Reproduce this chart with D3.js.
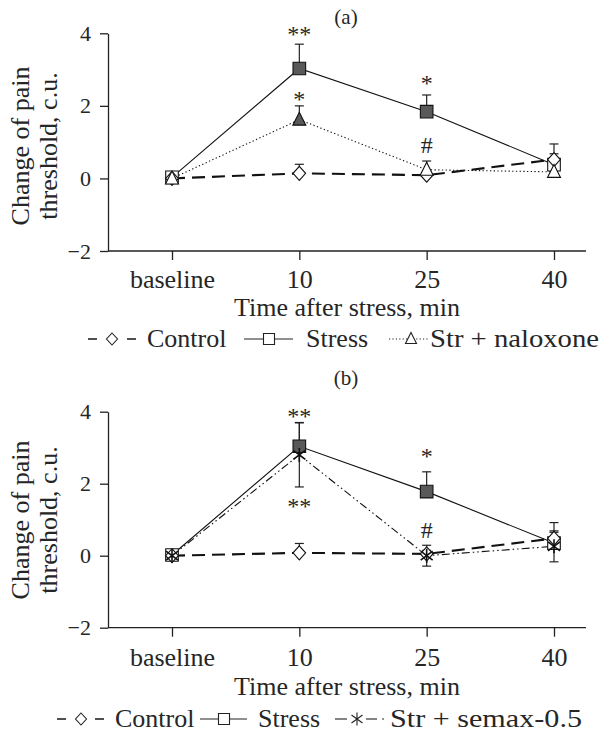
<!DOCTYPE html>
<html><head><meta charset="utf-8">
<script src="https://cdn.jsdelivr.net/npm/d3@7"></script>
<style>
body{margin:0;background:#fff}
text{font-family:"Liberation Serif","Times New Roman",serif;fill:#262626}
</style>
</head><body>
<svg id="chart" width="604" height="738"></svg>
<script>
// ---------- data ----------
const categories = ["baseline", "10", "25", "40"];
const yTicks = [-2, 0, 2, 4];
const xTitle = "Time after stress, min";
const yTitle = ["Change of pain", "threshold, c.u."];

// panel (a)
const controlA = [0, 0.14, 0.09, 0.52];
const controlAse = [0, 0.25, 0.10, 0.43];
const stressA = [0.03, 3.03, 1.84, 0.38];
const stressAse = [0, 0.67, 0.46, 0.30];
const stressAfilled = [false, true, true, false];
const naloxA = [0, 1.62, 0.24, 0.18];
const naloxAse = [0, 0.38, 0.24, 0.10];
const naloxAfilled = [false, true, false, false];
const annotAtext = ["**", "*", "*", "#"];
const annotAcat = ["10", "10", "25", "25"];
const annotAval = [4.12, 2.33, 2.77, 0.92];

// panel (b)
const controlB = [0, 0.08, 0.05, 0.48];
const controlBse = [0, 0.26, 0.10, 0.44];
const stressB = [0.02, 3.04, 1.78, 0.35];
const stressBse = [0, 0.66, 0.55, 0.30];
const stressBfilled = [false, true, true, false];
const semaxB = [0, 2.80, 0.0, 0.26];
const semaxBse = [0, 0.89, 0.29, 0.43];
const annotBtext = ["**", "**", "*", "#"];
const annotBcat = ["10", "10", "25", "25"];
const annotBval = [4.02, 1.52, 2.91, 0.71];

const legendA = ["Control", "Stress", "Str + naloxone"];
const legendB = ["Control", "Stress", "Str + semax-0.5"];

// ---------- symbols ----------
const symDiamond = {draw(c){c.moveTo(0,-7);c.lineTo(6.3,0);c.lineTo(0,7);c.lineTo(-6.3,0);c.closePath();}};
const symDiamondS = {draw(c){c.moveTo(0,-6);c.lineTo(5.5,0);c.lineTo(0,6);c.lineTo(-5.5,0);c.closePath();}};
const symSquare = {draw(c){c.rect(-6.3,-6.3,12.6,12.6);}};
const symSquareS = {draw(c){c.rect(-5.5,-5.5,11,11);}};
const symTriangle = {draw(c){c.moveTo(0,-7.5);c.lineTo(6.5,5.5);c.lineTo(-6.5,5.5);c.closePath();}};
const symTriangleS = {draw(c){c.moveTo(0,-6.5);c.lineTo(5.5,4.5);c.lineTo(-5.5,4.5);c.closePath();}};
const symAster = {draw(c){c.moveTo(0,-7);c.lineTo(0,7);c.moveTo(-6,-4.5);c.lineTo(6,4.5);c.moveTo(-6,4.5);c.lineTo(6,-4.5);}};
const symAsterS = {draw(c){c.moveTo(0,-6.5);c.lineTo(0,6.5);c.moveTo(-5.5,-4);c.lineTo(5.5,4);c.moveTo(-5.5,4);c.lineTo(5.5,-4);}};

const DARK = "#595959";
const svg = d3.select("#chart");
const x = d3.scalePoint().domain(categories).range([172, 554]);

const panels = [
  {title:"(a)", titleY:24, yRange:[251, 33.3], yTitleCy:146, tickBase:37, xTitleY:316,
   series:[
     {v:controlA, se:controlAse, sym:symDiamond, dash:"13,7", w:2.1, down:false},
     {v:stressA, se:stressAse, filled:stressAfilled, sym:symSquare, dash:null, w:1.1, down:false},
     {v:naloxA, se:naloxAse, filled:naloxAfilled, sym:symTriangle, dash:"1.3,2.4", w:1.1, down:false}
   ],
   annText:annotAtext, annCat:annotAcat, annVal:annotAval,
   legendY:347, legend:legendA},
  {title:"(b)", titleY:385, yRange:[627.7, 411.7], yTitleCy:520, tickBase:38, xTitleY:695,
   series:[
     {v:controlB, se:controlBse, sym:symDiamond, dash:"13,7", w:2.1, down:false},
     {v:stressB, se:stressBse, filled:stressBfilled, sym:symSquare, dash:null, w:1.1, down:false},
     {v:semaxB, se:semaxBse, sym:symAster, dash:"8,3,1.5,3,1.5,3", w:1.1, down:true, stroke:true}
   ],
   annText:annotBtext, annCat:annotBcat, annVal:annotBval,
   legendY:727, legend:legendB}
];

panels.forEach((p, pi) => {
  const y = d3.scaleLinear().domain([-2, 4]).range(p.yRange);
  const g = svg.append("g");

  // title
  g.append("text").attr("x", 346).attr("y", p.titleY).attr("text-anchor","middle")
    .style("font-size","21px").text(p.title);

  // y axis
  const ya = g.append("g").attr("transform","translate(108,0)")
    .call(d3.axisLeft(y).tickValues(yTicks).tickFormat(d3.format("d"))
      .tickSize(8).tickSizeOuter(0).tickPadding(9));
  ya.select(".domain").attr("stroke","#222").attr("stroke-width",1.3);
  ya.selectAll(".tick line").attr("stroke","#222").attr("stroke-width",1.3);
  ya.selectAll(".tick text").style("font-size","22px").style("font-family","'Liberation Serif',serif").attr("fill","#262626");

  // x axis
  const y0 = y(-2);
  g.append("line").attr("x1",108).attr("x2",586).attr("y1",y0).attr("y2",y0)
    .attr("stroke","#222").attr("stroke-width",1.3);
  const xa = g.append("g").attr("transform",`translate(0,${y0})`)
    .call(d3.axisBottom(x).tickSize(9).tickSizeOuter(0));
  xa.select(".domain").remove();
  xa.selectAll(".tick line").attr("stroke","#222").attr("stroke-width",1.3);
  xa.selectAll(".tick text").attr("y", p.tickBase).attr("dy", 0)
    .style("font-size","26px").style("font-family","'Liberation Serif',serif").attr("fill","#262626");

  // axis titles
  g.append("text").attr("x", 347).attr("y", p.xTitleY).attr("text-anchor","middle")
    .style("font-size","26px").text(xTitle);
  yTitle.forEach((t, i) => {
    g.append("text").attr("transform",`translate(${29 + i*28},${p.yTitleCy}) rotate(-90)`)
      .attr("text-anchor","middle").style("font-size","26px").text(t);
  });

  // lines
  const line = d3.line().x((d,i) => x(categories[i])).y(d => y(d));
  p.series.forEach(s => {
    g.append("path").attr("d", line(s.v)).attr("fill","none").attr("stroke","#111")
      .attr("stroke-width", s.w).attr("stroke-dasharray", s.dash);
  });

  // error bars
  p.series.forEach(s => {
    s.v.forEach((v, i) => {
      if (!s.se[i]) return;
      const cx = x(categories[i]);
      const top = y(v + s.se[i]);
      const bot = s.down ? y(v - s.se[i]) : y(v);
      g.append("line").attr("x1",cx).attr("x2",cx).attr("y1",top).attr("y2",bot)
        .attr("stroke","#222").attr("stroke-width",1.2);
      g.append("line").attr("x1",cx-4.5).attr("x2",cx+4.5).attr("y1",top).attr("y2",top)
        .attr("stroke","#222").attr("stroke-width",1.2);
      if (s.down) g.append("line").attr("x1",cx-4.5).attr("x2",cx+4.5).attr("y1",bot).attr("y2",bot)
        .attr("stroke","#222").attr("stroke-width",1.2);
    });
  });

  // markers: squares first, then others
  const order = [1, 0, 2];
  order.forEach(k => {
    const s = p.series[k];
    s.v.forEach((v, i) => {
      const filled = s.filled ? s.filled[i] : false;
      g.append("path").attr("d", d3.symbol().type(s.sym)())
        .attr("transform",`translate(${x(categories[i])},${y(v)})`)
        .attr("fill", s.stroke ? "none" : (filled ? DARK : "#fff"))
        .attr("stroke","#111").attr("stroke-width", s.stroke ? 1.6 : 1.1);
    });
  });

  // annotations
  p.annText.forEach((t, i) => {
    const off = t === "#" ? 8 : 13;
    g.append("text").attr("x", x(p.annCat[i])).attr("y", y(p.annVal[i]) + off)
      .attr("text-anchor","middle").style("font-size","24px").attr("fill","#333").text(t);
  });

  // legend
  const ly = p.legendY, cy = ly - 8;
  const L = g.append("g");
  const seg = (x1, x2, dash, w) => L.append("line").attr("x1",x1).attr("x2",x2).attr("y1",cy).attr("y2",cy)
      .attr("stroke","#222").attr("stroke-width",w).attr("stroke-dasharray",dash);
  const sym = (type, cx, fill) => L.append("path").attr("d", d3.symbol().type(type)())
      .attr("transform",`translate(${cx},${cy})`).attr("fill",fill).attr("stroke","#222").attr("stroke-width",1.1);
  const lab = (t, x0, len) => { const e = L.append("text").attr("x",x0).attr("y",ly).style("font-size","26px").text(t);
      if (len) e.attr("textLength", len).attr("lengthAdjust","spacingAndGlyphs"); };
  if (pi === 0) {
    seg(88, 97, null, 1.6); seg(127, 136, null, 1.6); sym(symDiamondS, 112, "#fff");
    lab(p.legend[0], 147);
    seg(244, 293, null, 1.1); sym(symSquareS, 269, "#fff");
    lab(p.legend[1], 306);
    seg(389, 429, "1.2,2.2", 1); sym(symTriangleS, 411, "#fff");
    lab(p.legend[2], 430, 169);
  } else {
    seg(57, 66, null, 1.6); seg(95, 104, null, 1.6); sym(symDiamondS, 81, "#fff");
    lab(p.legend[0], 115);
    seg(200, 247, null, 1.1); sym(symSquareS, 224, "#fff");
    lab(p.legend[1], 258);
    seg(335, 347, null, 1.1); seg(366, 377, null, 1.1); seg(382, 384, null, 1.1);
    sym(symAsterS, 357, "none");
    lab(p.legend[2], 390, 192);
  }
});
</script>
</body></html>
